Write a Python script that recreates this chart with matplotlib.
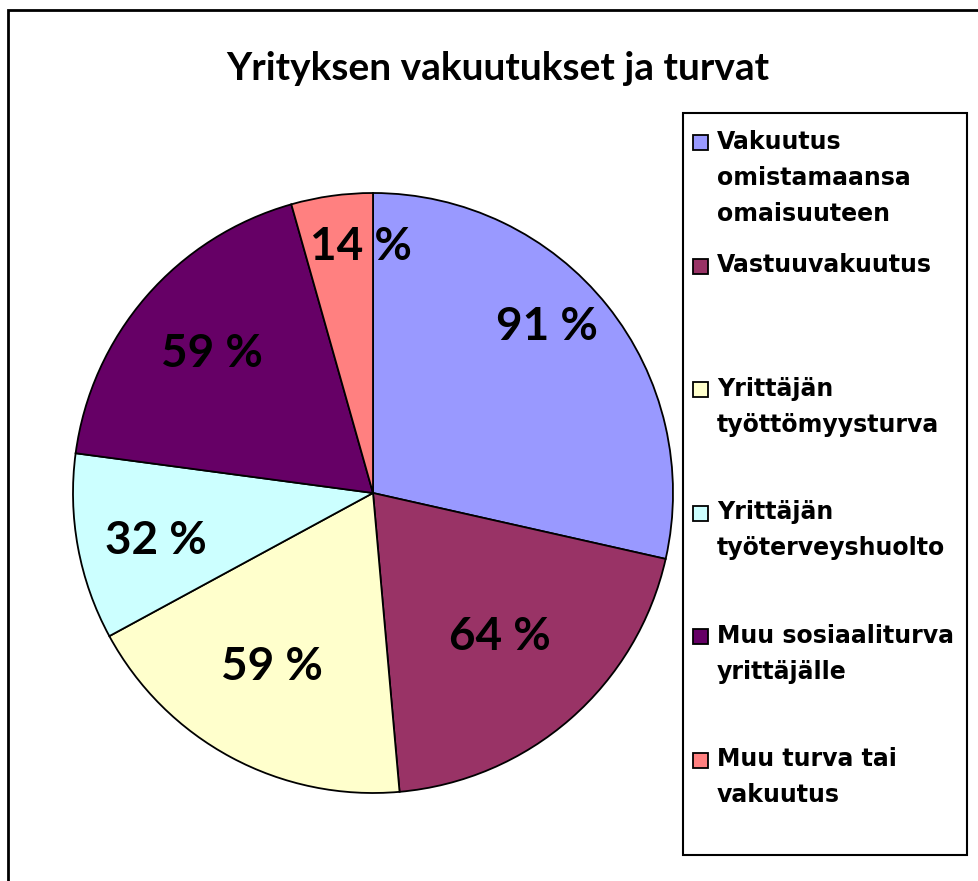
import numpy as np
import matplotlib.pyplot as plt
from matplotlib.patches import Rectangle

# Data
categories = ['Vakuutus\nomistamaansa\nomaisuuteen',
              'Vastuuvakuutus',
              'Yrittäjän\ntyöttömyysturva',
              'Yrittäjän\ntyöterveyshuolto',
              'Muu sosiaaliturva\nyrittäjälle',
              'Muu turva tai\nvakuutus']
values = [91, 64, 59, 32, 59, 14]
colors = ['#9999FF', '#993366', '#FFFFCC', '#CCFFFF', '#660066', '#FF8080']
title = 'Yrityksen vakuutukset ja turvat'

W, H = 979, 881
fig = plt.figure(figsize=(W / 100, H / 100), dpi=100)

def fx(px):
    return px / W

def fy(py):
    return 1 - py / H

# outer chart border (runs off the right/bottom edge)
fig.patches.append(Rectangle((fx(8), fy(H + 20)), fx(W + 20), (H + 10) / H,
                             transform=fig.transFigure, fill=False,
                             edgecolor='black', linewidth=2))

fig.text(fx(498), fy(68), title, ha='center', va='center',
         fontsize=28, fontweight='bold', family='Lato')

# pie: centre (373, 493), radius 300 px
ax = fig.add_axes([fx(73), fy(793), 600 / W, 600 / H])
wedges, _ = ax.pie(values, colors=colors, startangle=90, counterclock=False,
                   wedgeprops=dict(edgecolor='black', linewidth=1.3))
ax.set_xlim(-1, 1)
ax.set_ylim(-1, 1)
ax.set_aspect('equal')
ax.axis('off')

label_r = [0.80, 0.64, 0.67, 0.74, 0.71, 0.82]
label_shift = [5, 0, -2, 2, 0, -5]   # degrees, nudges like Excel's placement
for w, v, rr, sh in zip(wedges, values, label_r, label_shift):
    ang = np.deg2rad((w.theta1 + w.theta2) / 2 + sh)
    ax.text(rr * np.cos(ang), rr * np.sin(ang), f'{v} %', ha='center',
            va='center', fontsize=33, fontweight='bold', family='Lato')

# legend box
fig.patches.append(Rectangle((fx(683), fy(855)), (967 - 683) / W, (855 - 113) / H,
                             transform=fig.transFigure, facecolor='white',
                             edgecolor='black', linewidth=1.5))
step = 123.5
for i, (lab, c) in enumerate(zip(categories, colors)):
    y0 = 142 + i * step
    fig.patches.append(Rectangle((fx(693), fy(y0 + 8)), 15 / W, 15 / H,
                                 transform=fig.transFigure, facecolor=c,
                                 edgecolor='black', linewidth=1.3))
    fig.text(fx(717), fy(y0 - 12), lab, ha='left', va='top', fontsize=17,
             fontweight='bold', family='DejaVu Sans', linespacing=1.62)

fig.savefig('out.png', dpi=100)
